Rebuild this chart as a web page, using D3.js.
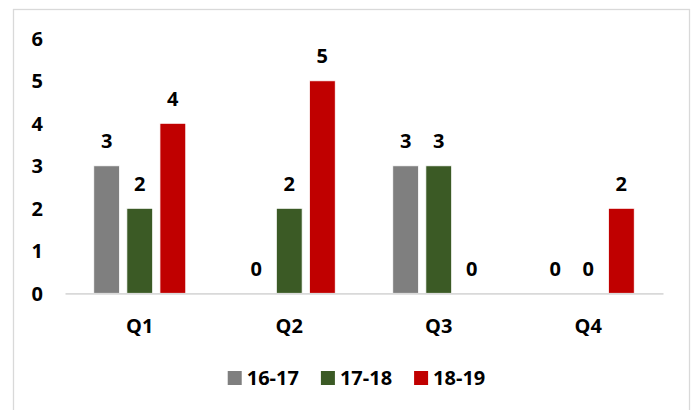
<!DOCTYPE html>
<html>
<head>
<meta charset="utf-8">
<script src="https://cdn.jsdelivr.net/npm/d3@7"></script>
<style>
  html, body { margin: 0; padding: 0; background: #fff; }
  svg { display: block; }
  text { font-family: "Open Sans", "Liberation Sans", sans-serif; font-weight: 700; fill: #000; }
</style>
</head>
<body>
<svg id="chart" width="696" height="410"></svg>
<script>
// Quarterly counts per season
const quarters = ["Q1", "Q2", "Q3", "Q4"];
const seasons = ["16-17", "17-18", "18-19"];
const values1617 = [3, 0, 3, 0];
const values1718 = [2, 2, 3, 0];
const values1819 = [4, 5, 0, 2];
const yTicks = [0, 1, 2, 3, 4, 5, 6];
const colors = ["#7f7f7f", "#3b5a25", "#c00000"];

const seriesValues = [values1617, values1718, values1819];
const rows = quarters.map((q, i) => ({
  quarter: q,
  items: seasons.map((s, j) => ({ season: s, value: seriesValues[j][i], color: colors[j] }))
}));

const svg = d3.select("#chart");
const fontSize = 20;

// chart frame
svg.append("rect")
  .attr("x", 13.5).attr("y", 9.5)
  .attr("width", 676).attr("height", 410)
  .attr("fill", "#fff")
  .attr("stroke", "#d9d9d9").attr("stroke-width", 1.3);

const plotLeft = 65, plotRight = 663, plotBottom = 293.3, plotTop = 38.3;

const x = d3.scaleBand().domain(quarters).range([plotLeft, plotRight]).padding(0);
const groupWidth = 92;
const xs = d3.scaleBand().domain(seasons)
  .range([(x.bandwidth() - groupWidth) / 2, (x.bandwidth() + groupWidth) / 2])
  .paddingInner(0.22).paddingOuter(0);
const y = d3.scaleLinear().domain([0, 6]).range([plotBottom, plotTop]);

// y axis labels (no axis line, no gridlines)
const yAxis = d3.axisLeft(y).tickValues(yTicks).tickFormat(d3.format("d")).tickSize(0).tickPadding(0);
const yg = svg.append("g").attr("transform", `translate(43,0)`).call(yAxis);
yg.select(".domain").remove();
yg.selectAll("text")
  .attr("font-size", fontSize)
  .attr("font-family", null)
  .attr("fill", "#000")
  .attr("dy", "0.35em");

// bars
const groups = svg.append("g").selectAll("g")
  .data(rows).join("g")
  .attr("transform", d => `translate(${x(d.quarter)},0)`);

groups.selectAll("rect")
  .data(d => d.items.filter(it => it.value > 0)).join("rect")
  .attr("x", d => xs(d.season))
  .attr("width", xs.bandwidth())
  .attr("y", d => y(d.value))
  .attr("height", d => y(0) - y(d.value))
  .attr("fill", d => d.color)
  .attr("stroke", "#fff").attr("stroke-width", 0.8);

// value labels
groups.selectAll("text.val")
  .data(d => d.items).join("text")
  .attr("class", "val")
  .attr("x", d => xs(d.season) + xs.bandwidth() / 2)
  .attr("y", d => y(d.value) - 17.5)
  .attr("text-anchor", "middle")
  .attr("font-size", fontSize)
  .text(d => d.value);

// x axis baseline
const xAxis = d3.axisBottom(x).tickSize(0).tickPadding(0);
const xg = svg.append("g").attr("transform", `translate(0,${plotBottom})`).call(xAxis);
xg.select(".domain").attr("stroke", "#d9d9d9").attr("stroke-width", 1.8);
xg.selectAll("text")
  .attr("font-size", fontSize)
  .attr("font-family", null)
  .attr("fill", "#000")
  .attr("dy", null)
  .attr("y", 39.5);

// legend
const legend = svg.append("g");
const items = legend.selectAll("g").data(seasons.map((s, j) => ({ s, c: colors[j] }))).join("g");
items.append("rect").attr("width", 14).attr("height", 14).attr("y", 371).attr("fill", d => d.c);
items.append("text").attr("x", 19).attr("y", 385).attr("font-size", fontSize).text(d => d.s);
let cx = 0;
items.each(function () {
  const g = d3.select(this);
  g.attr("transform", `translate(${cx},0)`);
  cx += 19 + g.select("text").node().getComputedTextLength() + 22;
});
const legendWidth = cx - 22;
legend.attr("transform", `translate(${356.5 - legendWidth / 2},0)`);
</script>
</body>
</html>
